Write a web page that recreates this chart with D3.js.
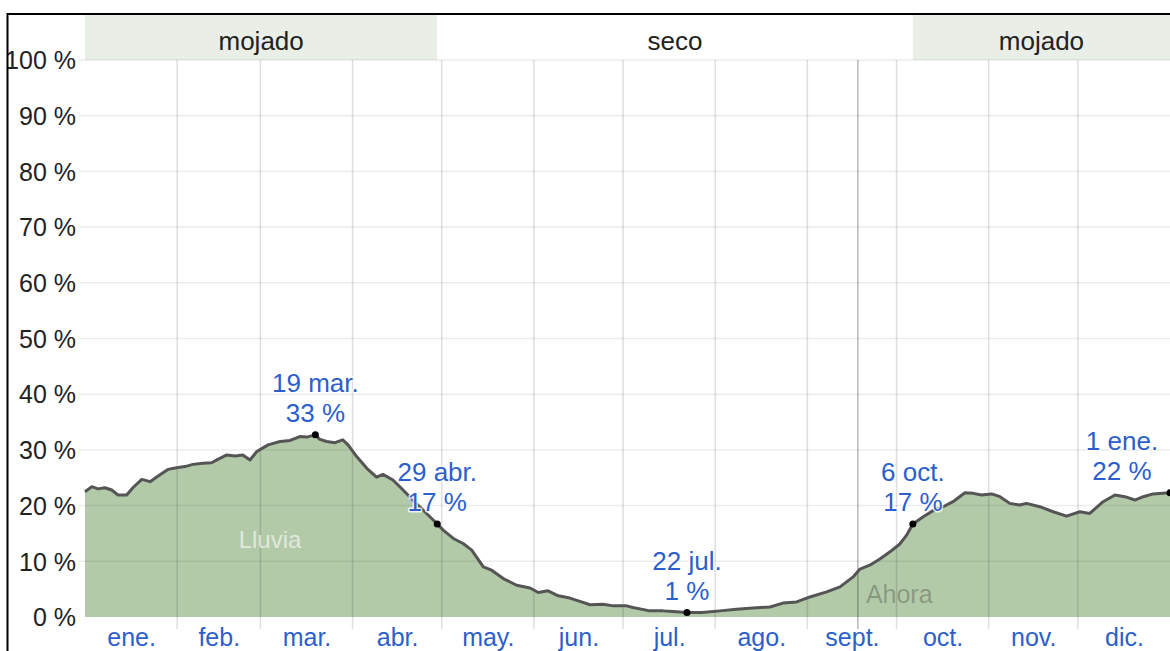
<!DOCTYPE html>
<html>
<head>
<meta charset="utf-8">
<script src="https://cdn.jsdelivr.net/npm/d3@7"></script>
<style>
  html, body { margin: 0; padding: 0; background: #fff; }
  svg { display: block; font-family: "Liberation Sans", Arial, sans-serif; }
</style>
</head>
<body>
<svg id="chart" width="1170" height="651"></svg>
<script>
// ---- data ----
const days = [0, 2.3, 4.4, 6.7, 9, 11.1, 14, 16.1, 19.1, 21.9, 24.6, 27.9, 30.8, 33.6, 36.3, 39.7, 42.6, 44.7, 47.7, 50.5, 53.1, 55.5, 57.8, 61.6, 65.6, 69, 72.3, 74.6, 77.5, 79, 81.3, 84.1, 86.7, 88.5, 91.4, 94.8, 98.1, 100.2, 103.6, 107, 110.3, 113.7, 118.5, 120.5, 123.9, 127.2, 130.1, 134, 136.8, 140.7, 145.2, 149.7, 152.5, 155.8, 159.2, 163.1, 166.5, 169.9, 174.3, 177.7, 182.2, 184.3, 190, 194.4, 197.8, 202.5, 207.6, 213.6, 219.2, 224.7, 230.4, 234.8, 239.4, 243.9, 249.5, 254, 258.4, 260.7, 264, 267.4, 270.8, 274.1, 276.4, 278.5, 282, 285.3, 288.7, 292, 296, 298.8, 301.6, 305, 307.8, 311.1, 314.5, 316.7, 321.2, 325.7, 330.2, 334.7, 338, 342.5, 346.5, 349.8, 353.2, 356, 359.3, 362.5, 365];
const rainChance = [22.5, 23.4, 23.0, 23.2, 22.8, 21.9, 21.9, 23.2, 24.7, 24.3, 25.3, 26.5, 26.8, 27.0, 27.4, 27.6, 27.7, 28.3, 29.1, 28.9, 29.1, 28.2, 29.7, 30.9, 31.5, 31.7, 32.4, 32.3, 32.7, 31.9, 31.5, 31.3, 31.8, 30.9, 28.8, 26.7, 25.1, 25.6, 24.6, 22.8, 21.0, 19.2, 16.7, 15.6, 14.1, 13.2, 12.0, 9.0, 8.4, 6.9, 5.7, 5.2, 4.4, 4.7, 3.8, 3.4, 2.8, 2.2, 2.3, 2.0, 2.0, 1.7, 1.1, 1.1, 1.0, 0.8, 0.8, 1.1, 1.4, 1.6, 1.8, 2.5, 2.7, 3.6, 4.5, 5.4, 7.2, 8.6, 9.3, 10.4, 11.7, 13.1, 14.7, 16.7, 18.0, 19.1, 19.8, 20.7, 22.3, 22.2, 21.9, 22.1, 21.6, 20.4, 20.1, 20.4, 19.8, 18.9, 18.1, 18.9, 18.6, 20.7, 21.9, 21.6, 21.0, 21.6, 22.1, 22.2, 22.3];

const monthStarts = [0, 31, 59, 90, 120, 151, 181, 212, 243, 273, 304, 334, 365];
const monthLabels = ["ene.", "feb.", "mar.", "abr.", "may.", "jun.", "jul.", "ago.", "sept.", "oct.", "nov.", "dic."];
const yTicks = [0, 10, 20, 30, 40, 50, 60, 70, 80, 90, 100];

const seasonStarts = [0, 118.5, 278.5];
const seasonEnds = [118.5, 278.5, 365];
const seasonLabels = ["mojado", "seco", "mojado"];
const seasonWet = [true, false, true];

const annDays = [77.5, 118.5, 202.5, 278.5, 365];
const annValues = [32.7, 16.7, 0.8, 16.7, 22.3];
const annDates = ["19 mar.", "29 abr.", "22 jul.", "6 oct.", "1 ene."];
const annPercents = ["33 %", "17 %", "1 %", "17 %", "22 %"];

const nowDay = 260;
const seriesLabel = "Lluvia";
const nowLabel = "Ahora";

// ---- layout ----
(function () {
const svg = d3.select("#chart");
const W = 1170, H = 651;
const pLeft = 85, pRight = 1170, pTop = 60, pBottom = 617;
const bandTop = 15;

const x = d3.scaleLinear().domain([0, 365]).range([pLeft, pRight]);
const y = d3.scaleLinear().domain([0, 100]).range([pBottom, pTop]);

const blue = "#2d5fcc";

// season bands
const seasons = seasonStarts.map((s, i) => ({ s, e: seasonEnds[i], label: seasonLabels[i], wet: seasonWet[i] }));
svg.append("g").selectAll("rect").data(seasons).join("rect")
  .attr("x", d => x(d.s)).attr("y", bandTop)
  .attr("width", d => x(d.e) - x(d.s)).attr("height", pTop - bandTop)
  .attr("fill", d => d.wet ? "#e9efe6" : "#ffffff");
svg.append("g").selectAll("text").data(seasons).join("text")
  .attr("x", d => (x(d.s) + x(d.e)) / 2).attr("y", 50)
  .attr("text-anchor", "middle").attr("font-size", 26).attr("fill", "#222")
  .text(d => d.label);

// area
const pts = days.map((d, i) => [d, rainChance[i]]);
svg.append("path").datum(pts)
  .attr("fill", "#b3caa9")
  .attr("d", d3.area().x(d => x(d[0])).y0(y(0)).y1(d => y(d[1])));

// horizontal gridlines
svg.append("g").selectAll("line").data(yTicks.filter(t => t > 0)).join("line")
  .attr("x1", 79).attr("x2", pRight)
  .attr("y1", d => y(d)).attr("y2", d => y(d))
  .attr("stroke", "rgba(0,0,0,0.075)").attr("stroke-width", 1.5);

// vertical month gridlines
svg.append("g").selectAll("line").data(monthStarts.slice(1, 12)).join("line")
  .attr("x1", d => x(d)).attr("x2", d => x(d))
  .attr("y1", pTop).attr("y2", 629)
  .attr("stroke", "rgba(0,0,0,0.13)").attr("stroke-width", 1.5);

// now line
svg.append("line")
  .attr("x1", x(nowDay)).attr("x2", x(nowDay))
  .attr("y1", pTop).attr("y2", 629)
  .attr("stroke", "rgba(0,0,0,0.28)").attr("stroke-width", 1.5);

// line
svg.append("path").datum(pts)
  .attr("fill", "none").attr("stroke", "#555").attr("stroke-width", 3)
  .attr("stroke-linejoin", "round")
  .attr("d", d3.line().x(d => x(d[0])).y(d => y(d[1])));

// y axis
const yAxis = svg.append("g").attr("transform", "translate(76,0)")
  .call(d3.axisLeft(y).tickValues(yTicks).tickSize(0).tickPadding(0).tickFormat(d => d + " %"));
yAxis.select(".domain").remove();
yAxis.selectAll("text").attr("font-size", 25).attr("fill", "#222")
  .attr("font-family", "Liberation Sans, Arial, sans-serif").attr("dy", "0.35em");

// x axis month labels
const mids = monthLabels.map((m, i) => (monthStarts[i] + monthStarts[i + 1]) / 2);
const xAxis = svg.append("g").attr("transform", "translate(0,627)")
  .call(d3.axisBottom(x).tickValues(mids).tickSize(0).tickPadding(0)
    .tickFormat((d, i) => monthLabels[i]));
xAxis.select(".domain").remove();
xAxis.selectAll("text").attr("font-size", 25).attr("fill", blue)
  .attr("font-family", "Liberation Sans, Arial, sans-serif").attr("dy", "0.76em");

// labels inside
svg.append("text").attr("x", 270).attr("y", 548).attr("text-anchor", "middle")
  .attr("font-size", 24).attr("fill", "rgba(255,255,255,0.6)").text(seriesLabel);
svg.append("text").attr("x", x(nowDay) + 8).attr("y", 603)
  .attr("font-size", 25).attr("fill", "rgba(0,0,0,0.25)").text(nowLabel);

// annotations
const anns = annDays.map((d, i) => ({ d, v: annValues[i], date: annDates[i], pct: annPercents[i] }));
const ag = svg.append("g");
ag.selectAll("circle").data(anns).join("circle")
  .attr("cx", d => x(d.d)).attr("cy", d => y(d.v)).attr("r", 3.5).attr("fill", "#000");
const labelX = d => Math.min(x(d.d), pRight - 48);
[["date", 43], ["pct", 13]].forEach(([k, off]) => {
  ag.selectAll("text." + k).data(anns).join("text").attr("class", k)
    .attr("x", labelX).attr("y", d => y(d.v) - off)
    .attr("text-anchor", "middle").attr("font-size", 26).attr("fill", blue)
    .attr("stroke", "rgba(255,255,255,0.8)").attr("stroke-width", 3)
    .attr("paint-order", "stroke").attr("stroke-linejoin", "round")
    .text(d => d[k]);
});

// frame
svg.append("path").attr("d", `M7.5,${H} V14 H${W}`)
  .attr("fill", "none").attr("stroke", "#000").attr("stroke-width", 2);
})();
</script>
</body>
</html>
